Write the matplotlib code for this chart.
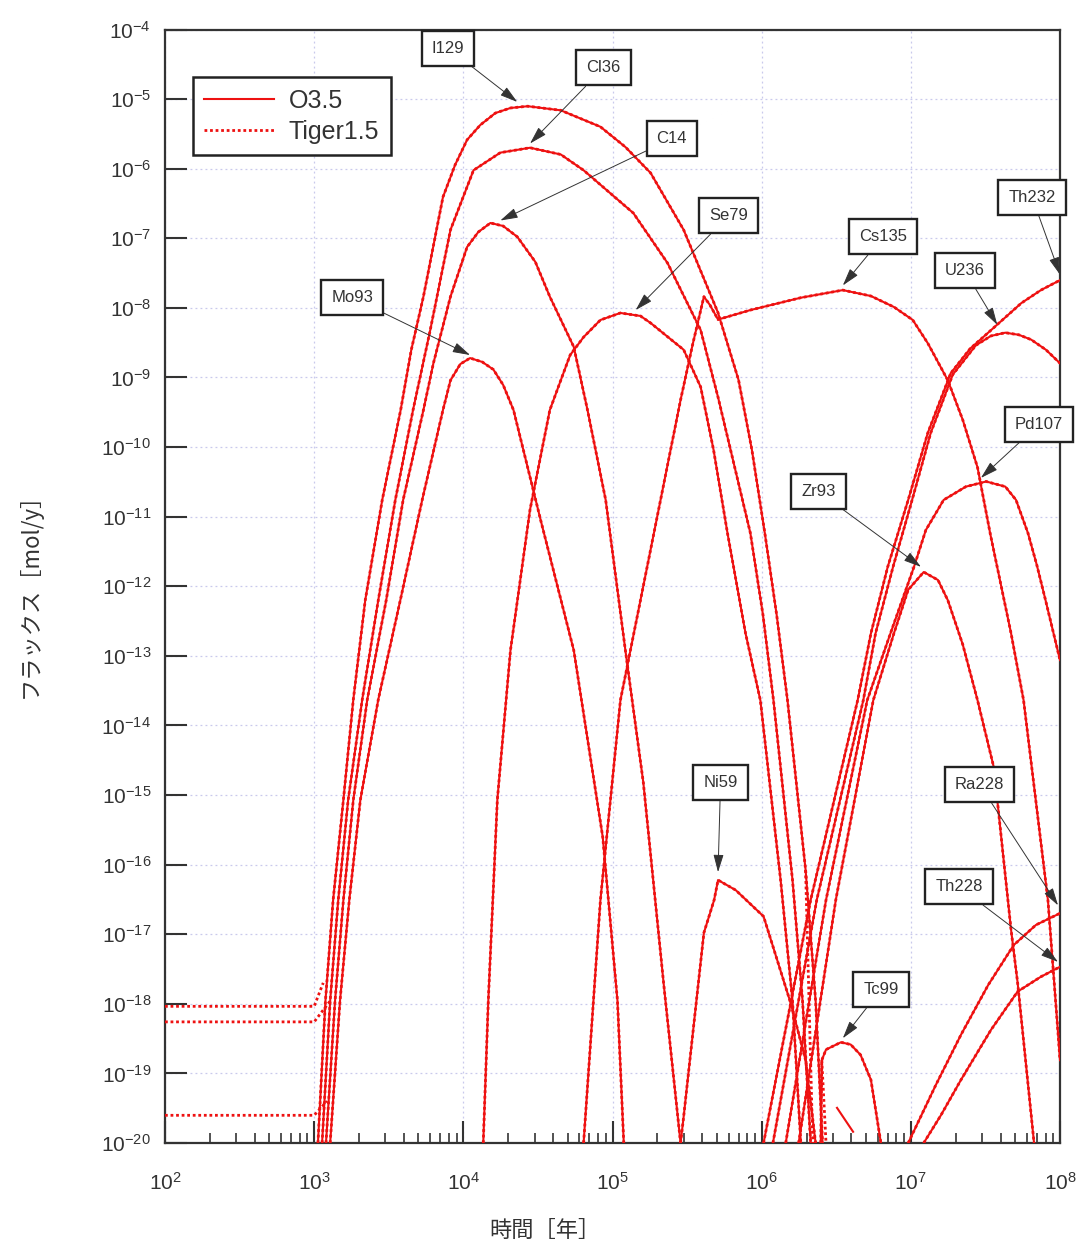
import matplotlib
matplotlib.use('Agg')
import matplotlib.pyplot as plt
from matplotlib.lines import Line2D
from matplotlib.ticker import LogLocator, LogFormatterMathtext, NullFormatter

plt.rcParams['mathtext.fontset'] = 'custom'
plt.rcParams['mathtext.rm'] = 'Liberation Sans'
plt.rcParams['mathtext.it'] = 'Liberation Sans:italic'
plt.rcParams['mathtext.bf'] = 'Liberation Sans:bold'
plt.rcParams['font.family'] = ['Liberation Sans', 'DejaVu Sans']

# ---------------- data (time [y], flux [mol/y]) ----------------
series_names = ["O3.5", "Tiger1.5"]

i129_t = [1.06e3, 1.19e3, 1.34e3, 1.57e3, 1.83e3, 2.2e3, 2.86e3, 3.8e3, 4.48e3, 5.4e3, 7.3e3, 8.8e3,
          1.06e4, 1.3e4, 1.64e4, 2.07e4, 2.7e4, 4.5e4, 8.3e4, 1.22e5, 1.8e5, 3.0e5, 5.1e5, 7.0e5,
          8.6e5, 1.05e6, 1.26e6, 1.49e6, 1.97e6, 2.3e6, 2.56e6]
i129_f = [1e-20, 1.1e-18, 3.1e-17, 8.5e-16, 2.35e-14, 6.3e-13, 1.74e-11, 3.4e-10, 2.5e-9, 1.45e-8, 3.9e-7, 1.13e-6,
          2.6e-6, 4.25e-6, 6.3e-6, 7.45e-6, 7.9e-6, 6.9e-6, 4.0e-6, 2.05e-6, 8.7e-7, 1.32e-7, 8.5e-9, 9.2e-10,
          9.1e-11, 5.8e-12, 3.9e-13, 2.3e-14, 8.4e-17, 1.1e-18, 1e-20]

cl36_t = [1.13e3, 1.28e3, 1.45e3, 1.69e3, 2.1e3, 2.69e3, 3.5e3, 4.6e3, 6.0e3, 8.2e3, 1.17e4, 1.77e4,
          2.8e4, 4.5e4, 6.4e4, 1.38e5, 2.34e5, 3.9e5, 5.1e5, 8.4e5, 1.02e6, 1.2e6, 1.61e6, 1.88e6, 2.13e6]
cl36_f = [1e-20, 1.1e-18, 3.1e-17, 8.5e-16, 2.35e-14, 6.3e-13, 1.74e-11, 3.4e-10, 4.8e-9, 1.32e-7, 9.5e-7, 1.7e-6,
          2.0e-6, 1.6e-6, 9.5e-7, 2.3e-7, 4.4e-8, 4.8e-9, 5.2e-10, 5.8e-12, 3.9e-13, 2.3e-14, 6e-17, 1.1e-18, 1e-20]

c14_t = [1.2e3, 1.38e3, 1.57e3, 1.83e3, 2.27e3, 3.04e3, 3.95e3, 5.4e3, 6.3e3, 8.2e3, 1.06e4, 1.26e4,
         1.52e4, 1.85e4, 2.3e4, 3.04e4, 3.8e4, 5.5e4, 6.8e4, 9.0e4, 1.22e5, 1.61e5, 2.2e5, 2.86e5]
c14_f = [1e-20, 1.1e-18, 3.1e-17, 8.5e-16, 2.35e-14, 6.3e-13, 1.74e-11, 3.4e-10, 1.6e-9, 1.45e-8, 7.5e-8, 1.23e-7,
         1.66e-7, 1.5e-7, 1.05e-7, 4.57e-8, 1.45e-8, 2.75e-9, 3.4e-10, 1.74e-11, 1.2e-13, 1.5e-15, 2e-18, 1e-20]

mo93_t = [1.28e3, 1.49e3, 1.72e3, 2.04e3, 2.69e3, 3.78e3, 5.3e3, 7.3e3, 8.2e3, 9.55e3, 1.11e4, 1.34e4,
          1.59e4, 1.85e4, 2.17e4, 3.3e4, 5.5e4, 8.6e4, 1.08e5, 1.19e5]
mo93_f = [1e-20, 1.1e-18, 3.1e-17, 8.5e-16, 2.35e-14, 6.3e-13, 1.74e-11, 3.4e-10, 9.1e-10, 1.56e-9, 1.9e-9, 1.67e-9,
          1.3e-9, 7.8e-10, 3.4e-10, 8.9e-12, 1.2e-13, 2.5e-16, 1.1e-18, 1e-20]

se79_t = [1.36e4, 1.47e4, 1.69e4, 2.07e4, 2.8e4, 3.8e4, 4.5e4, 5.2e4, 6.4e4, 8.3e4, 1.13e5, 1.54e5,
          1.8e5, 3.0e5, 3.9e5, 4.76e5, 5.9e5, 7.8e5, 9.8e5, 1.34e6, 1.61e6, 1.83e6]
se79_f = [1e-20, 1.1e-18, 8.5e-16, 1.2e-13, 1.26e-11, 3.4e-10, 9.1e-10, 2.1e-9, 3.8e-9, 6.7e-9, 8.45e-9, 7.65e-9,
          6.07e-9, 2.5e-9, 7.3e-10, 9.1e-11, 5.8e-12, 2.1e-13, 2.3e-14, 6e-17, 1.1e-18, 1e-20]

cs135_t = [6.4e4, 8.3e4, 1.13e5, 1.54e5, 2.1e5, 2.86e5, 3.44e5, 4.1e5, 4.5e5, 5.1e5, 8.4e5, 1.83e6,
           3.5e6, 5.4e6, 7.7e6, 1.03e7, 1.3e7, 1.77e7, 2.23e7, 2.8e7, 3.4e7, 4.7e7, 5.7e7, 8.3e7, 9.7e7, 1e8]
cs135_f = [1e-20, 3.1e-17, 2.3e-14, 6.3e-13, 1.74e-11, 4.75e-10, 2.93e-9, 1.45e-8, 1.1e-8, 6.8e-9, 9.3e-9, 1.4e-8,
           1.8e-8, 1.48e-8, 1.03e-8, 6.7e-9, 3.1e-9, 9.1e-10, 2.45e-10, 5.1e-11, 5.8e-12, 2.1e-13, 2.3e-14,
           3.1e-17, 3.8e-19, 1.55e-19]

ni59_t = [2.86e5, 3.0e5, 4.1e5, 4.8e5, 5.1e5, 6.7e5, 1.03e6, 1.57e6, 1.97e6, 2.3e6]
ni59_f = [1e-20, 2.4e-20, 1.05e-17, 3.1e-17, 6e-17, 4.3e-17, 1.8e-17, 1.0e-18, 1.55e-19, 1e-20]

tc99_t = [2.49e6, 2.53e6, 2.7e6, 3.4e6, 3.95e6, 4.6e6, 5.4e6, 6.3e6]
tc99_f = [1e-20, 1.55e-19, 2.2e-19, 2.8e-19, 2.6e-19, 1.85e-19, 8.1e-20, 1e-20]
tc99b_t = [3.2e6, 4.1e6]
tc99b_f = [3.2e-20, 1.45e-20]

th232_t = [1.03e6, 2.13e6, 4.4e6, 5.4e6, 7.0e6, 9.6e6, 1.3e7, 1.85e7, 2.5e7, 3.3e7, 5.5e7, 7.45e7, 1e8]
th232_f = [1e-20, 3.1e-17, 2.3e-14, 2.1e-13, 1.9e-12, 1.74e-11, 1.6e-10, 1.15e-9, 2.6e-9, 4.4e-9, 1.17e-8,
           1.8e-8, 2.5e-8]

u236_t = [1.19e6, 2.34e6, 4.8e6, 5.8e6, 7.6e6, 1.02e7, 1.36e7, 1.91e7, 2.73e7, 3.44e7, 4.3e7, 5.3e7,
          6.4e7, 8.05e7, 1e8]
u236_f = [1e-20, 3.1e-17, 2.3e-14, 2.1e-13, 1.9e-12, 1.74e-11, 1.6e-10, 1.1e-9, 2.9e-9, 3.95e-9, 4.4e-9, 4.1e-9,
          3.5e-9, 2.5e-9, 1.6e-9]

pd107_t = [1.45e6, 2.7e6, 5.1e6, 7.3e6, 1.05e7, 1.26e7, 1.66e7, 2.34e7, 3.2e7, 4.3e7, 5.07e7, 6.1e7,
           7.0e7, 8.0e7, 1e8]
pd107_f = [1e-20, 3.1e-17, 2.3e-14, 2.1e-13, 1.9e-12, 6.4e-12, 1.74e-11, 2.7e-11, 3.2e-11, 2.7e-11, 1.74e-11,
           5.8e-12, 2.0e-12, 6.3e-13, 8.7e-14]

zr93_t = [1.77e6, 3.14e6, 5.6e6, 7.7e6, 9.6e6, 1.22e7, 1.52e7, 1.77e7, 2.23e7, 2.8e7, 3.6e7, 4.7e7, 5.2e7, 6.7e7]
zr93_f = [1e-20, 3.1e-17, 2.3e-14, 2.1e-13, 8.9e-13, 1.6e-12, 1.23e-12, 6.3e-13, 1.45e-13, 2.3e-14, 2.5e-15,
          1.15e-17, 2e-18, 1e-20]

ra228_t = [9.6e6, 1.47e7, 2.17e7, 3.3e7, 4.9e7, 6.9e7, 1e8]
ra228_f = [1e-20, 6.8e-20, 3.6e-19, 1.86e-18, 7.0e-18, 1.36e-17, 2.0e-17]

th228_t = [1.22e7, 1.59e7, 2.17e7, 3.44e7, 5.2e7, 7.45e7, 1e8]
th228_f = [1e-20, 2.5e-20, 8.1e-20, 4.2e-19, 1.5e-18, 2.45e-18, 3.4e-18]

# Tiger1.5-only early plateaus (t < 1e3) and tails
tiger_i129_t = [1e2, 1.0e3, 1.15e3]
tiger_i129_f = [9.2e-19, 9.2e-19, 2.0e-18]
tiger_cl36_t = [1e2, 1.0e3, 1.28e3]
tiger_cl36_f = [5.5e-19, 5.5e-19, 1.1e-18]
tiger_c14_t = [1e2, 1.0e3, 1.22e3]
tiger_c14_f = [2.5e-20, 2.5e-20, 4.0e-20]
tiger_i129_tail_t = [1.97e6, 2.2e6]
tiger_i129_tail_f = [8.4e-17, 1e-20]
tiger_tc99_tail_t = [2.53e6, 2.7e6]
tiger_tc99_tail_f = [1.55e-19, 1e-20]

curves = [(i129_t, i129_f), (cl36_t, cl36_f), (c14_t, c14_f), (mo93_t, mo93_f), (se79_t, se79_f),
          (cs135_t, cs135_f), (ni59_t, ni59_f), (tc99_t, tc99_f), (th232_t, th232_f), (u236_t, u236_f),
          (pd107_t, pd107_f), (zr93_t, zr93_f), (ra228_t, ra228_f), (th228_t, th228_f)]
o35_extra = [(tc99b_t, tc99b_f)]
tiger_extra = [(tiger_i129_t, tiger_i129_f), (tiger_cl36_t, tiger_cl36_f), (tiger_c14_t, tiger_c14_f),
               (tiger_i129_tail_t, tiger_i129_tail_f), (tiger_tc99_tail_t, tiger_tc99_tail_f)]

# annotations: label, arrow tip (t, f), box centre (t, f)
ann_labels = ["I129", "Cl36", "C14", "Mo93", "Se79", "Cs135", "U236", "Th232", "Pd107", "Zr93",
              "Ni59", "Tc99", "Ra228", "Th228"]
ann_tip = [(2.3e4, 9.1e-6), (2.8e4, 2.3e-6), (1.77e4, 1.8e-7), (1.11e4, 2.1e-9), (1.43e5, 9.3e-9),
           (3.5e6, 2.1e-8), (3.8e7, 5.7e-9), (1e8, 3.0e-8), (2.95e7, 3.6e-11), (1.17e7, 1.9e-12),
           (5.1e5, 7.8e-17), (3.5e6, 3.2e-19), (9.7e7, 2.6e-17), (9.7e7, 4e-18)]
ann_box = [(7.9e3, 5.4e-5), (8.7e4, 2.8e-5), (2.5e5, 2.7e-6), (1.8e3, 1.4e-8), (6.0e5, 2.1e-7),
           (6.5e6, 1.05e-7), (2.3e7, 3.4e-8), (6.5e7, 3.9e-7), (7.2e7, 2.1e-10), (2.4e6, 2.3e-11),
           (5.3e5, 1.5e-15), (6.3e6, 1.6e-18), (2.9e7, 1.4e-15), (2.1e7, 4.8e-17)]

# ---------------- figure ----------------
RED = '#ee1111'
fig = plt.figure(figsize=(10.84, 12.53), dpi=100)
ax = fig.add_axes([165 / 1084, 1 - 1143 / 1253, 895 / 1084, 1113.5 / 1253])
ax.set_xscale('log')
ax.set_yscale('log')
ax.set_xlim(1e2, 1e8)
ax.set_ylim(1e-20, 1e-4)

ax.xaxis.set_major_locator(LogLocator(base=10, numticks=20))
ax.xaxis.set_minor_locator(LogLocator(base=10, subs=range(2, 10), numticks=20))
ax.yaxis.set_major_locator(LogLocator(base=10, numticks=30))
ax.yaxis.set_minor_locator(LogLocator(base=10, subs=[], numticks=30))
ax.xaxis.set_major_formatter(LogFormatterMathtext())
ax.yaxis.set_major_formatter(LogFormatterMathtext())
ax.xaxis.set_minor_formatter(NullFormatter())
ax.yaxis.set_minor_formatter(NullFormatter())

ax.grid(True, which='major', color='#c9c9ec', linestyle=(0, (1.5, 2.5)), linewidth=0.9)
ax.set_axisbelow(True)
ax.tick_params(which='major', direction='in', length=16, width=1.5, colors='#333333',
               labelsize=15, top=False, right=False)
ax.tick_params(axis='x', which='major', pad=21)
ax.tick_params(axis='y', which='major', pad=10)
ax.tick_params(which='minor', direction='in', length=7, width=1.2, colors='#333333', top=False, right=False)
for s in ax.spines.values():
    s.set_linewidth(1.6)
    s.set_color('#333333')

for t, f in curves:
    ax.plot(t, f, color=RED, lw=1.5, linestyle='-', solid_joinstyle='round', zorder=3)
    ax.plot(t, f, color=RED, lw=2.0, linestyle=(0, (1.0, 1.0)), zorder=3)
for t, f in o35_extra:
    ax.plot(t, f, color=RED, lw=1.5, linestyle='-', zorder=3)
for t, f in tiger_extra:
    ax.plot(t, f, color=RED, lw=2.0, linestyle=(0, (1.0, 1.0)), zorder=3)

for lab, tip, box in zip(ann_labels, ann_tip, ann_box):
    ax.annotate(lab, xy=tip, xytext=box, ha='center', va='center', fontsize=12, color='#333333',
                bbox=dict(boxstyle='square,pad=0.6', fc='white', ec='#222222', lw=1.7),
                arrowprops=dict(arrowstyle='-|>,head_length=0.9,head_width=0.26', color='#333333',
                                lw=0.7, shrinkA=0, shrinkB=0), zorder=5, annotation_clip=False)

handles = [Line2D([], [], color=RED, lw=1.5, linestyle='-'),
           Line2D([], [], color=RED, lw=2.0, linestyle=(0, (1.0, 1.0)))]
leg = ax.legend(handles, series_names, loc='upper left', bbox_to_anchor=(0.031, 0.957),
                fontsize=18, frameon=True, fancybox=False, framealpha=1, edgecolor='#222222',
                handlelength=2.8, borderpad=0.45, labelspacing=0.3, handletextpad=0.6, borderaxespad=0)
leg.get_frame().set_linewidth(1.8)
for txt in leg.get_texts():
    txt.set_color('#333333')

cjk = ['Noto Sans CJK JP', 'DejaVu Sans']
fig.text(545 / 1084, 1 - 1230 / 1253, '時間［年］', family=cjk, fontsize=16, ha='center', va='center',
         color='#333333')
fig.text(30 / 1084, 1 - 590 / 1253, 'フラックス［mol/y］', family=cjk, fontsize=16, ha='center',
         va='center', rotation=90, color='#333333')

fig.savefig('out.png', dpi=100)
